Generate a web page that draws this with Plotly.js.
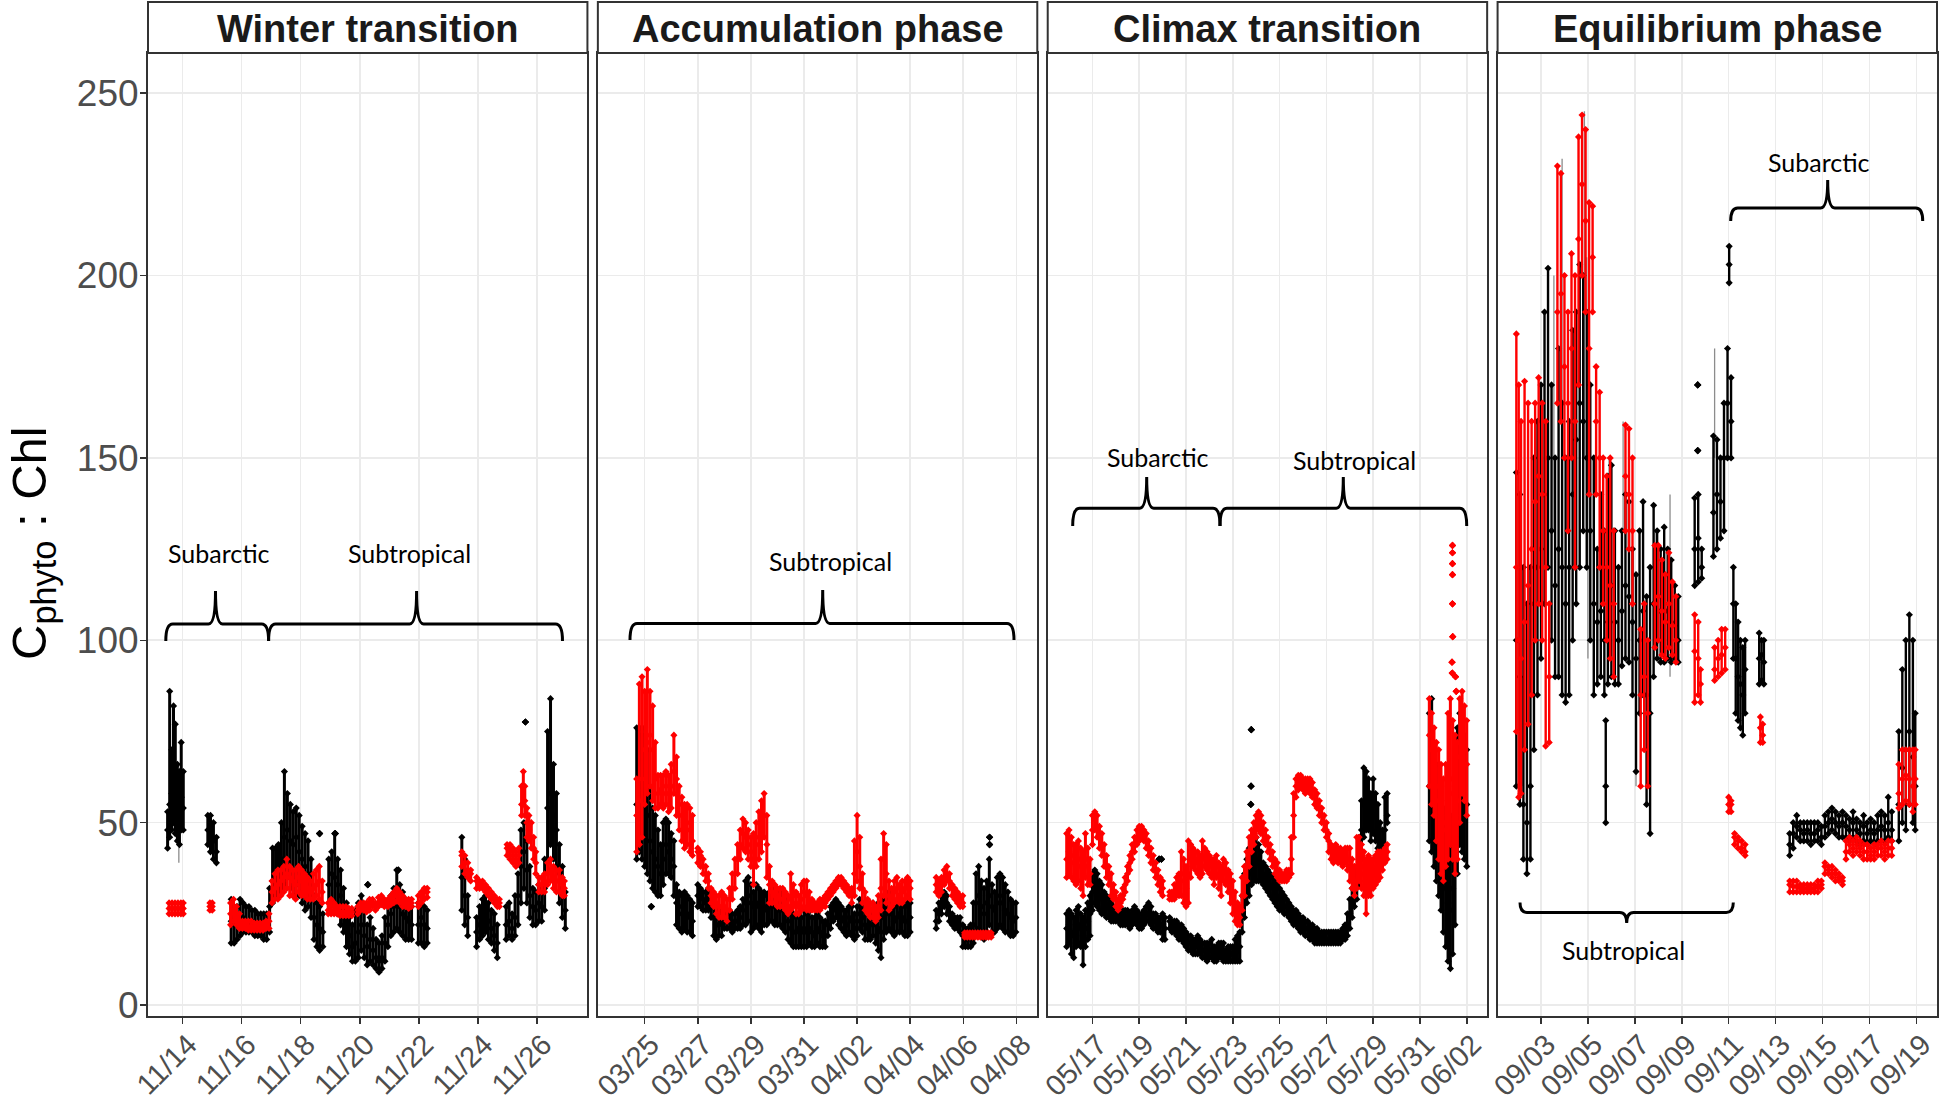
<!DOCTYPE html>
<html>
<head>
<meta charset="utf-8">
<script src="https://cdn.plot.ly/plotly-3.0.1.min.js"></script>
<style>html,body{margin:0;padding:0;background:#fff;}#chart{width:1950px;height:1111px;}</style>
</head>
<body>
<div id="chart"></div>
<script>
// ---- DATA: rows are [day-of-month (may exceed month length), value, low, high] ----
const panelTitles = ['Winter transition', 'Accumulation phase', 'Climax transition', 'Equilibrium phase'];
const yTickVals = [0, 50, 100, 150, 200, 250];

const winterBlack = [
[13.50,48,43,53],[13.57,55,46,86],[13.64,58,48,70],[13.70,60,50,82],[13.76,56,47,77],[13.83,54,45,66],[13.90,52,44,64],[13.96,57,48,72],[14.03,54,48,64],
[14.86,48,44,52],[14.95,46,42,52],[15.05,45,40,50],[15.15,42,39,46],
[15.65,23,17,29],[15.75,22,17,27],[15.85,23,18,27],[15.95,24,19,29],[16.05,24,20,28],[16.15,23,20,27],[16.25,23,20,27],[16.35,23,20,26],[16.45,22,19,26],[16.55,22,19,25],[16.65,22,19,25],[16.75,21,18,25],[16.85,22,18,25],[16.95,27,20,32],
[17.05,34,28,43],[17.15,36,30,43],[17.25,38,30,44],[17.35,40,32,50],[17.45,46,33,64],[17.55,48,35,58],[17.65,45,32,55],[17.75,44,30,53],[17.85,46,33,54],[17.95,42,30,52],[18.05,40,28,49],[18.15,38,26,47],[18.25,36,27,45],[18.35,30,24,40],
[18.45,24,18,30],[18.55,22,16,28],[18.64,21,15,27],[18.75,20,16,25],
[18.95,33,26,40],[19.05,36,28,42],[19.15,35,27,47],[19.25,33,25,40],[19.35,30,22,37],[19.45,26,20,32],
[19.55,22,16,28],[19.65,19,14,24],[19.75,16,12,22],[19.85,17,12,26],[19.95,20,13,28],
[20.05,22,15,30],[20.15,19,13,26],[20.25,16,11,22],[20.35,18,12,24],[20.45,15,11,21],[20.55,13,10,18],[20.65,12,9,17],[20.75,13,10,19],[20.85,17,12,24],
[20.95,22,16,28],[21.05,25,19,30],[21.15,27,20,32],[21.25,28,21,37],[21.35,27,20,33],[21.45,25,19,31],[21.55,24,18,29],[21.65,23,18,28],[21.75,22,18,27],
[21.98,22,17,28],[22.08,24,17,30],[22.18,22,16,27],[22.28,21,17,26],
[23.45,35,26,46],[23.55,30,22,40],[23.65,24,19,30],
[23.95,20,16,24],[24.05,22,18,27],[24.15,24,19,29],[24.25,27,20,30],[24.35,23,18,28],[24.45,21,17,26],[24.55,19,15,25],[24.65,17,13,22],
[24.95,22,18,27],[25.05,23,19,28],[25.15,21,18,25],[25.25,24,19,30],[25.35,30,22,36],[25.45,38,28,48],[25.55,42,32,50],[25.65,37,28,45],[25.75,30,24,38],[25.85,27,22,32],[25.95,26,22,31],[26.05,28,23,33],[26.15,27,23,32],[26.25,32,26,40],[26.35,54,40,75],[26.45,58,44,84],[26.55,52,40,66],[26.65,48,38,58],[26.75,36,28,44],[26.85,30,24,38],[26.95,26,21,31],
[18.64,47],[19.17,47],[20.27,33],[21.30,37],[25.60,77.6]
];
const winterRed = [
[13.55,26.5,25,28],[13.65,26.5,25,28],[13.75,26.5,25,28],[13.85,26.5,25,28],[13.95,26.5,25,28],[14.03,26.5,25,28],
[14.93,27,26,28],[15.01,27,26,28],
[15.63,25,22,28],[15.73,26,23,29],[15.83,24,22,27],[15.93,23,21,25],
[16.03,22,21,23],[16.13,22,21,23],[16.23,21.5,20.5,23],[16.33,21.5,20.5,23],[16.43,21.5,20.5,22.5],[16.53,21.5,20.5,22.5],[16.63,21.5,20.5,22.5],[16.73,21.5,20.5,22.5],[16.83,22,21,23],[16.93,23,21,25],
[17.03,31,28,34],[17.13,32,29,36],[17.23,33,29,37],[17.33,34,30,37],[17.43,35,31,38],[17.53,36,32,40],[17.63,35,30,38],[17.73,34,30,37],[17.83,33,29,37],[17.93,35,31,38],[18.03,34,30,37],[18.13,33,30,36],[18.23,32,29,35],[18.33,31,29,34],[18.43,32,29,36],[18.53,33,30,37],[18.63,34,29,38],[18.73,31,28,34],
[18.93,26,25,28],[19.03,27,25,29],[19.13,26,25,28],[19.23,26,25,27],[19.33,25.5,24.5,27],[19.43,25.5,24.5,27],[19.53,25.5,24.5,27],[19.63,25.5,24.5,26.5],[19.73,25.5,24.5,26.5],
[19.93,26,25,27],[20.03,27,26,28],[20.13,27,26,28],[20.23,26.5,25.5,28],[20.33,27.5,26,29],[20.43,28,27,29],[20.53,27,26,28],[20.63,28,27,29.5],[20.73,29,27.5,30],[20.83,28,27,29],
[20.95,28,27,29],[21.05,29,27.5,30],[21.15,30,28,31],[21.25,30,28.5,32],[21.35,29,28,31],[21.45,28.5,27,30],[21.55,28,27,29],[21.65,27.5,26.5,29],[21.75,28,27,29],
[21.98,28,27,30],[22.08,30,28,31],[22.18,31,29,32],[22.28,31,29.5,32],
[23.45,41,38,42],[23.55,39,36,41],[23.65,37,35,39],[23.75,36,34,37],
[23.95,34,32,35],[24.05,33,32,34],[24.15,33,32,34],[24.25,32,31,33],[24.35,31,30,32],[24.45,30,29,31],[24.55,29,28,30],[24.65,28,27,29],[24.72,28,27,29],
[24.98,43,41,44],[25.08,42,40,44],[25.18,41,39,43],[25.28,40,38,42],[25.38,41,39,43],
[25.47,55,52,60],[25.53,60,55,64],[25.58,56,52,60],[25.65,50,46,54],[25.72,48,45,52],[25.80,46,43,50],[25.88,43,40,46],[25.95,39,36,42],
[26.05,33,31,35],[26.15,33,31,35],[26.25,34,31,36],[26.35,36,33,39],[26.45,37,34,40],[26.55,35,32,38],[26.65,34,31,37],[26.75,34,31,37],[26.85,33,30,35],[26.92,32,30,34]
];
const winterGrey = [[13.88,39,62],[26.45,58,84]];

const accumBlack = [
[24.70,55,40,76],[24.80,60,42,76],[24.90,58,40,74],[25.00,55,38,76],[25.10,52,36,70],[25.20,45,34,60],[25.30,42,32,54],[25.40,40,31,52],[25.50,38,30,48],[25.60,36,30,44],[25.70,40,33,50],[25.80,44,36,51],[25.90,42,36,50],[26.00,40,35,47],[26.10,38,30,45],
[26.20,28,22,33],[26.30,27,21,31],[26.40,25,20,30],[26.50,26,21,31],[26.60,25,20,30],[26.70,24,20,29],[26.80,23,19,28],
[27.00,30,27,33],[27.10,30,27,32],[27.20,29,26,31],[27.30,28,26,31],[27.40,29,26,32],[27.50,27,24,30],[27.60,24,19,27],[27.70,22,18,26],[27.80,22,19,26],[27.90,23,19,26],
[28.00,23,21,25],[28.10,23,21,25],[28.20,23,21,26],[28.30,22,20,25],[28.40,23,21,25],[28.50,23,21,26],[28.60,24,21,27],[28.70,26,22,29],[28.80,28,22,34],[28.90,30,23,35],
[29.00,28,20,33],[29.10,27,21,31],[29.20,28,22,33],[29.30,27,21,32],[29.40,26,20,31],[29.50,27,22,31],[29.60,26,22,30],[29.70,27,23,31],[29.80,28,23,32],[29.90,27,22,31],
[30.00,26,22,30],[30.10,27,22,31],[30.20,26,21,30],[30.30,25,20,29],[30.40,23,18,27],[30.50,21,17,26],[30.60,20,16,25],[30.70,20,16,24],[30.80,21,16,25],[30.90,20,16,24],
[31.00,21,16,26],[31.10,20,16,25],[31.20,21,17,26],[31.30,20,16,24],[31.40,19,16,24],[31.50,21,17,25],[31.60,20,16,24],[31.70,19,16,23],[31.80,19,16,23],[31.90,22,19,25],
[32.00,24,21,27],[32.10,26,23,28],[32.20,27,24,29],[32.30,25,22,28],[32.40,24,21,27],[32.50,23,20,26],[32.60,22,19,26],[32.70,24,20,27],[32.80,23,19,27],[32.90,21,18,25],
[33.00,23,19,27],[33.10,25,21,29],[33.20,24,20,28],[33.30,22,18,26],[33.40,21,18,25],[33.50,22,18,26],[33.60,24,19,28],[33.70,22,17,27],[33.80,21,15,28],[33.90,20,13,27],
[34.00,24,18,29],[34.10,25,20,30],[34.20,26,21,31],[34.30,25,20,30],[34.40,23,19,27],[34.50,24,20,28],[34.60,25,20,30],[34.70,24,20,28],[34.80,23,19,27],[34.90,23,19,28],[35.00,24,20,28],
[35.98,23,21,26],[36.08,25,23,28],[36.18,27,25,30],[36.28,29,27,31],[36.38,28,25,30],[36.48,25,23,27],[36.58,23,22,25],[36.68,22,21,24],[36.78,23,21,24],[36.88,22,20,24],
[36.98,19,16,22],[37.08,18,16,21],[37.18,18,16,21],[37.28,19,16,22],[37.38,22,17,28],[37.48,28,20,36],[37.58,30,21,38],[37.68,27,20,34],[37.78,25,18,32],[37.88,28,20,34],
[37.98,30,22,40],[38.08,27,20,33],[38.18,26,20,31],[38.28,28,21,35],[38.38,30,22,36],[38.48,28,21,35],[38.58,26,20,33],[38.68,25,20,31],[38.78,24,19,29],[38.88,23,19,28],[38.98,24,20,28],
[25.25,27],[37.99,46],[37.99,44]
];
const accumRed = [
[24.70,52,42,62],[24.80,56,44,88],[24.90,62,46,90],[25.00,70,55,86],[25.10,72,58,92],[25.20,74,60,86],[25.30,70,56,82],[25.40,62,54,72],[25.50,58,54,63],[25.60,59,55,63],
[25.70,58,54,63],[25.80,60,55,64],[25.90,58,53,63],[26.00,60,54,66],[26.10,64,58,74],[26.20,62,52,68],[26.30,55,48,60],[26.40,52,45,57],[26.50,49,43,55],[26.60,50,44,55],[26.70,48,42,54],[26.80,45,41,52],
[27.00,42,39,43],[27.10,41,38,42],[27.20,38,36,40],[27.30,36,34,38],[27.40,34,32,36],[27.50,30,28,32],[27.60,29,27,31],[27.70,28,25,30],[27.80,27,24,30],[27.90,27,24,31],
[28.00,27,24,30],[28.10,26,23,29],[28.20,29,26,32],[28.30,32,29,36],[28.40,36,32,40],[28.50,40,36,44],[28.60,44,40,48],[28.70,47,43,51],[28.80,46,42,50],[28.90,44,40,48],
[29.00,42,38,46],[29.10,40,33,47],[29.20,44,38,50],[29.30,46,40,53],[29.40,48,42,56],[29.50,52,46,58],[29.60,44,35,52],[29.70,33,28,38],[29.80,31,28,34],[29.90,30,28,33],
[30.00,30,27,32],[30.10,29,27,32],[30.20,29,27,32],[30.30,28,26,31],[30.40,27,25,30],[30.50,29,26,36],[30.60,30,27,33],[30.70,28,25,31],[30.80,27,25,30],[30.90,29,26,33],
[31.00,31,27,34],[31.10,30,26,34],[31.20,28,26,31],[31.30,27,26,29],[31.40,27,26,28],[31.50,27,26,28],[31.60,27,26,29],[31.70,28,27,29],[31.80,28,27,30],[31.90,30,29,31],
[32.00,31,30,32],[32.10,32,31,33],[32.20,33,32,34],[32.30,34,33,35],[32.40,34,33,35],[32.50,33,32,34],[32.60,32,31,33],[32.70,31,30,32],[32.80,30,28,32],[32.90,36,30,45],
[33.00,42,34,52],[33.10,38,32,46],[33.20,32,28,36],[33.30,28,26,31],[33.40,27,25,29],[33.50,26,24,28],[33.60,26,24,28],[33.70,25,23,27],[33.80,27,24,30],[33.90,32,26,40],
[34.00,40,30,47],[34.10,36,28,44],[34.20,30,26,34],[34.30,29,27,32],[34.40,31,28,34],[34.50,32,29,35],[34.60,30,28,33],[34.70,31,28,34],[34.80,32,29,34],[34.90,33,30,35],[35.00,32,29,34],
[35.98,33,31,35],[36.08,32,30,34],[36.18,33,31,35],[36.28,35,33,37],[36.38,36,34,38],[36.48,34,32,36],[36.58,32,30,33],[36.68,31,29,32],[36.78,30,28,31],[36.88,29,27,30],[36.98,28,27,30],
[37.05,19.2,18.6,19.8],[37.15,19.2,18.6,19.8],[37.25,19.2,18.6,19.8],[37.35,19.2,18.6,19.8],[37.45,19.2,18.6,19.8],[37.55,19.2,18.6,19.8],[37.65,19.2,18.6,19.8],[37.75,19.2,18.6,19.8],[37.85,19.2,18.6,19.8],[37.95,19.2,18.6,19.8],[38.05,19.2,18.6,19.8]
];

const climaxBlack = [
[15.90,21,16,25],[16.00,22,17,26],[16.10,20,14,25],[16.20,19,13,24],[16.30,21,16,26],[16.40,22,17,27],[16.50,21,16,25],[16.60,19,11,24],[16.70,21,16,26],[16.80,23,18,28],[16.90,25,19,30],
[17.00,31,26,36],[17.10,33,28,37],[17.20,32,27,36],[17.30,30,26,34],[17.40,29,25,33],[17.50,28,25,31],[17.60,27,24,30],[17.70,27,24,29],[17.80,26,23,28],[17.90,25,23,27],
[18.00,25,23,27],[18.10,25,23,27],[18.20,24,22,26],[18.30,24,22,26],[18.40,24,22,26],[18.50,24,22,26],[18.60,23,21,25],[18.70,24,22,26],[18.80,25,23,27],[18.90,24,22,26],
[19.00,23,21,25],[19.10,23,21,25],[19.20,24,22,26],[19.30,25,23,27],[19.40,25,23,28],[19.50,24,22,27],[19.60,23,21,25],[19.70,23,21,25],[19.80,22,20,24],[19.90,22,20,24],
[20.00,22,18,25],[20.10,21,18,24],[20.30,23,21,24],[20.40,22,20,23],[20.50,22,20,23],[20.60,21,19,23],[20.70,20,18,22],[20.80,20,18,22],[20.90,19,17,21],
[21.00,18,16,20],[21.10,17,15,19],[21.20,17,15,19],[21.30,16,14,18],[21.40,16,14,18],[21.50,17,14,19],[21.60,16,14,18],[21.70,15,13,17],[21.80,15,13,17],[21.90,14,12,17],
[22.00,15,13,17],[22.10,15,13,18],[22.20,14,12,16],[22.30,14,12,16],[22.40,15,13,17],[22.50,15,13,17],[22.60,14,12,17],[22.70,13,12,15],[22.80,14,12,16],[22.90,14,12,16],
[23.00,14,12,16],[23.10,15,12,18],[23.20,15,12,19],[23.30,16,12,20],
[23.40,24,20,30],[23.50,30,24,36],[23.60,34,28,40],[23.70,36,30,43],[23.80,38,33,45],[23.90,40,34,47],[24.00,40,34,46],[24.10,39,34,44],[24.20,38,34,42],[24.30,36,33,39],
[24.40,35,32,38],[24.50,34,31,37],[24.60,33,30,36],[24.70,32,29,35],[24.80,31,28,34],[24.90,30,27,33],[25.00,29,26,32],[25.10,28,26,31],[25.20,27,25,30],[25.30,27,25,29],
[25.40,26,24,28],[25.50,25,23,27],[25.60,24,22,26],[25.70,24,22,26],[25.80,23,21,25],[25.90,22,20,24],[26.00,22,20,24],[26.10,21,19,23],[26.20,21,19,23],[26.30,20,18,22],
[26.40,20,18,22],[26.50,19,17,21],[26.60,19,17,21],[26.70,19,17,20],[26.80,18,17,20],[26.90,18,17,20],[27.00,18,17,20],[27.10,18,17,20],[27.20,19,17,20],[27.30,19,17,20],
[27.40,18,17,20],[27.50,19,17,20],[27.60,19,17,20],[27.70,19,18,21],[27.80,20,18,22],[27.90,22,19,25],[28.00,25,21,29],[28.10,28,24,32],[28.20,32,27,36],[28.30,34,29,38],
[28.40,40,33,46],[28.50,48,40,56],[28.60,55,46,65],[28.70,56,48,64],[28.80,55,48,62],[28.90,52,45,58],[29.00,55,47,62],[29.10,52,45,58],[29.20,48,43,55],[29.30,45,42,50],
[29.40,44,42,48],[29.50,48,44,57],[29.60,52,50,58],
[31.40,60,45,80],[31.50,58,42,84],[31.60,52,38,72],[31.70,48,34,66],[31.80,42,30,60],[31.90,40,26,56],[32.00,36,20,54],[32.10,32,16,50],[32.20,28,12,46],[32.30,26,10,44],
[32.40,32,14,52],[32.50,42,22,62],[32.60,55,36,76],[32.70,62,44,80],[32.80,60,42,78],[32.90,58,40,74],[33.00,55,38,70],
[23.79,75.5],[23.78,60],[23.77,55],[19.85,40],[19.95,40]
];
const climaxRed = [
[15.90,40,35,47],[16.00,42,36,48],[16.10,41,35,46],[16.20,39,34,44],[16.30,38,33,44],[16.40,40,34,45],[16.50,38,32,43],[16.60,37,30,42],[16.70,40,35,47],[16.80,38,33,43],[16.90,36,33,40],
[17.00,48,44,52],[17.10,51,48,53],[17.20,49,46,52],[17.30,46,43,49],[17.40,44,41,47],[17.50,41,38,44],[17.60,38,35,41],[17.70,36,33,38],[17.80,33,30,36],[17.90,31,29,33],
[18.00,29,27,31],[18.10,27,26,29],[18.20,28,27,30],[18.30,30,29,32],[18.40,33,31,35],[18.50,36,34,38],[18.60,39,37,41],[18.70,42,40,44],[18.80,44,42,46],[18.90,46,44,48],
[19.00,47,45,49],[19.10,48,46,49],[19.20,47,45,48],[19.30,45,43,47],[19.40,43,41,45],[19.50,41,39,43],[19.60,39,37,41],[19.70,37,35,39],[19.80,35,33,37],[19.90,33,31,35],
[20.00,32,30,34],[20.30,30,29,31],[20.40,30,29,31],[20.50,31,29,33],[20.60,32,30,35],[20.70,33,30,36],[20.80,36,30,42],[20.90,34,28,40],
[21.00,32,27,38],[21.10,36,28,45],[21.20,40,35,44],[21.30,41,38,43],[21.40,40,37,42],[21.50,39,36,42],[21.60,38,35,41],[21.70,40,36,45],[21.80,41,38,43],[21.90,40,37,42],
[22.00,39,36,41],[22.10,38,35,40],[22.20,37,33,40],[22.30,38,35,41],[22.40,36,32,39],[22.50,35,30,38],[22.60,37,34,40],[22.70,36,33,39],[22.80,34,31,37],[22.90,33,28,36],
[23.00,30,25,34],[23.10,27,23,31],[23.20,25,22,28],[23.30,24,22,27],[23.40,30,26,35],[23.50,34,30,38],[23.60,38,34,42],[23.70,42,38,46],[23.80,45,42,48],[23.90,47,44,50],
[24.00,49,46,52],[24.10,50,48,53],[24.20,49,47,52],[24.30,48,45,50],[24.40,46,44,48],[24.50,44,42,46],[24.60,42,40,44],[24.70,40,38,42],[24.80,38,36,40],[24.90,37,35,39],
[25.00,36,34,37],[25.10,35,34,36],[25.20,35,34,36],[25.30,35,34,37],[25.40,36,35,37],[25.50,40,36,46],[25.60,52,46,58],[25.70,60,57,62],[25.80,61,59,63],[25.90,62,60,63],
[26.00,61,59,62],[26.10,60,58,62],[26.20,61,59,62],[26.30,60,58,62],[26.40,59,57,61],[26.50,57,55,59],[26.60,56,54,58],[26.70,54,52,56],[26.80,52,50,54],[26.90,50,48,52],
[27.00,48,46,50],[27.10,45,42,47],[27.20,42,40,44],[27.30,41,39,43],[27.40,42,40,44],[27.50,41,39,43],[27.60,41,39,43],[27.70,40,38,42],[27.80,41,39,43],[27.90,40,37,43],
[28.00,38,34,43],[28.10,36,32,40],[28.20,34,30,38],[28.30,38,32,46],[28.40,40,34,46],[28.50,38,32,44],[28.60,36,30,42],[28.70,34,25,40],[28.80,36,30,41],[28.90,35,30,40],
[29.00,36,32,40],[29.10,37,33,41],[29.20,38,34,42],[29.30,39,35,42],[29.40,40,37,42],[29.50,41,39,43],[29.60,42,40,44],
[31.40,74,60,84],[31.50,70,55,80],[31.60,66,52,76],[31.70,60,45,72],[31.80,56,40,70],[31.90,52,36,66],[32.00,48,34,62],[32.10,50,38,66],[32.20,60,40,80],[32.30,62,44,84],
[32.40,58,40,78],[32.50,52,36,74],[32.60,56,40,72],[32.70,68,50,84],[32.80,72,58,86],[32.90,70,56,82],[33.00,66,52,78],
[32.39,126],[32.39,124],[32.39,121],[32.39,118],[32.39,110],[32.40,101],[32.37,94],[32.38,91],[32.52,90],[32.55,86]
];

const equilBlack = [
[1.95,100,60,146],[2.10,90,55,140],[2.25,55,40,120],[2.40,50,36,110],[2.55,60,40,120],[2.70,110,70,150],[2.85,120,85,160],[3.00,125,95,170],[3.15,140,110,190],[3.30,150,120,202],
[3.45,130,100,170],[3.60,115,90,150],[3.75,125,90,180],[3.90,120,85,165],[4.05,110,83,150],[4.20,120,85,160],[4.35,140,100,185],[4.50,155,110,190],[4.65,165,120,203],[4.80,160,130,200],
[4.95,150,120,190],[5.10,130,100,170],[5.25,110,85,150],[5.40,105,88,125],[5.55,108,90,140],[5.70,100,85,130],[5.76,60,50,78],[5.85,105,88,145],[6.00,115,90,148],[6.15,105,88,130],
[6.30,100,88,120],[6.45,108,93,130],[6.60,115,95,140],[6.75,112,94,138],[6.90,105,85,125],[7.05,95,64,118],[7.20,100,80,130],[7.35,108,85,138],[7.50,85,55,112],[7.65,80,47,120],
[7.80,110,90,137],[7.95,112,95,130],[8.10,108,94,125],[8.25,110,94,131],[8.40,108,95,125],[8.55,105,94,122],[8.70,104,95,115],[8.85,100,94,112],
[9.55,125,115,139],[9.70,128,116,140],[9.85,120,117,125],[9.68,170],[9.68,152],
[10.35,135,123,156],[10.50,140,125,155],[10.65,138,128,150],[10.80,150,130,165],[10.95,165,150,180],[11.02,203,198,208],[11.10,160,150,172],
[11.20,110,95,120],[11.30,95,80,110],[11.40,90,78,105],[11.50,88,76,100],[11.60,85,74,98],[11.70,92,80,100],
[12.30,95,88,102],[12.40,96,89,100],[12.50,94,88,100],
[13.60,44,41,47],[13.75,47,43,50],[13.90,49,46,52],[14.05,48,45,50],[14.20,47,45,50],[14.35,48,45,50],[14.50,47,44,50],[14.65,47,45,50],[14.80,48,45,50],[14.95,46,44,49],
[15.10,49,46,52],[15.25,50,47,53],[15.40,51,48,54],[15.55,50,47,53],[15.70,49,46,52],[15.85,50,46,53],[16.00,49,46,52],[16.15,48,45,51],[16.30,50,46,53],[16.45,48,45,51],
[16.60,47,44,50],[16.75,49,45,52],[16.90,47,44,50],[17.05,48,45,51],[17.20,47,44,50],[17.35,48,45,52],[17.50,49,45,53],[17.65,48,45,52],[17.80,50,46,57],[17.95,48,45,53],
[18.25,55,45,75],[18.40,65,50,92],[18.55,70,48,100],[18.70,75,55,107],[18.85,68,50,100],[18.95,60,48,80]
];
const equilRed = [
[1.95,120,75,184],[2.05,100,57,170],[2.15,95,58,160],[2.30,105,70,171],[2.45,115,77,165],[2.60,125,85,160],[2.75,138,100,165],[2.90,145,110,172],[3.05,140,100,165],[3.20,120,71,160],
[3.35,90,72,110],[3.70,190,165,230],[3.85,195,160,228],[4.00,175,150,200],[4.15,165,130,190],[4.30,180,150,206],[4.45,160,120,200],[4.60,210,170,238],[4.75,225,200,244],[4.90,215,190,240],
[5.05,180,140,220],[5.20,205,190,219],[5.35,160,140,175],[5.50,150,120,168],[5.65,130,110,150],[5.80,120,100,145],[5.95,115,95,150],[6.10,110,90,130],
[6.60,145,130,159],[6.75,140,125,158],[6.90,130,110,150],[7.25,85,60,103],[7.40,90,70,110],[7.55,80,60,100],
[7.85,110,98,126],[8.00,112,100,126],[8.15,108,96,122],[8.30,105,95,118],[8.45,110,98,124],[8.60,104,96,116],[8.75,100,94,112],
[9.55,97,83,107],[9.70,95,85,105],[9.80,88,83,92],[10.40,92,89,98],[10.55,95,90,100],[10.70,96,91,103],[10.85,98,92,103],
[11.00,55,53,57],[11.10,55,53,56],[11.25,46,44,47],[11.40,45,43,46],[11.55,43,42,45],[11.70,42,41,44],[12.35,76,72,79],[12.45,74,72,77],
[13.60,33,31,34],[13.75,32.5,31,34],[13.90,32.5,31,34],[14.05,32,31,33],[14.20,32,31,33],[14.35,32,31,33],[14.50,32,31,33],[14.65,32,31,33],[14.80,32.5,31,34],[14.95,33,32,34],
[15.10,38,36,39],[15.25,37,36,38],[15.40,36,35,38],[15.55,36,34,37],[15.70,35,34,36],[15.85,34,33,35],
[16.00,42,40,45],[16.15,44,42,46],[16.30,43,41,45],[16.45,44,42,46],[16.60,43,41,45],[16.75,42,40,44],[16.90,42,40,44],[17.05,41,40,43],[17.20,42,40,44],[17.35,43,41,44],
[17.50,43,41,45],[17.65,42,40,44],[17.80,43,41,45],[17.95,43,41,45],
[18.25,58,54,66],[18.40,62,55,70],[18.55,63,56,70],[18.70,62,55,70],[18.85,60,53,70],[18.95,62,55,70]
];
const equilGrey = [[2.95,120,170],[3.90,165,232],[4.85,150,245],[4.95,145,205],[3.55,130,200],[5.00,95,140],[6.50,130,160],[7.05,60,100],[8.50,90,140],[2.20,60,90],[10.40,150,180],[5.90,110,150],[7.90,100,130]];

// ---- panel configuration (dates: year, month index, axis range in days, first tick day) ----
const panels = [
  {title: panelTitles[0], year: 2015, month: 10, range: [12.837, 27.698], tick0: 14, black: winterBlack, red: winterRed, grey: winterGrey, domain: [0, 0.24563]},
  {title: panelTitles[1], year: 2018, month: 2, range: [23.237, 39.787], tick0: 25, black: accumBlack, red: accumRed, grey: [], domain: [0.25146, 0.49709]},
  {title: panelTitles[2], year: 2016, month: 4, range: [15.089, 33.872], tick0: 17, black: climaxBlack, red: climaxRed, grey: [], domain: [0.50292, 0.74855]},
  {title: panelTitles[3], year: 2017, month: 8, range: [1.150, 19.878], tick0: 3, black: equilBlack, red: equilRed, grey: equilGrey, domain: [0.75438, 1]}
];

function toDate(year, month0, d) {
  const ms = Date.UTC(year, month0, 1) + (d - 1) * 86400000;
  return new Date(ms).toISOString().slice(0, 19).replace('T', ' ');
}

function seriesTraces(rows, p, color, thick, xa, ya) {
  const x = rows.map(r => toDate(p.year, p.month, r[0]));
  const y = rows.map(r => r[1]);
  const lo = rows.map(r => r.length > 2 ? r[2] : r[1]);
  const hi = rows.map(r => r.length > 3 ? r[3] : r[1]);
  const mk = {symbol: 'diamond', size: 5.5, color: color};
  return [{
    type: 'scatter', mode: 'markers', x: x, y: y, xaxis: xa, yaxis: ya,
    marker: mk,
    error_y: {type: 'data', symmetric: false, array: hi.map((h, k) => h - y[k]), arrayminus: lo.map((l, k) => y[k] - l), color: color, thickness: thick, width: 0},
    showlegend: false, hoverinfo: 'skip'
  }, {
    type: 'scatter', mode: 'markers', x: x.concat(x), y: lo.concat(hi), xaxis: xa, yaxis: ya,
    marker: mk, showlegend: false, hoverinfo: 'skip'
  }];
}

function greyTrace(rows, p, xa, ya) {
  return {
    type: 'scatter', mode: 'markers', xaxis: xa, yaxis: ya,
    x: rows.map(r => toDate(p.year, p.month, r[0])),
    y: rows.map(r => r[1]),
    marker: {size: 1, color: 'rgba(0,0,0,0)'},
    error_y: {type: 'data', symmetric: false, array: rows.map(r => r[2] - r[1]), arrayminus: rows.map(() => 0), color: '#8c8c8c', thickness: 1.3, width: 0},
    showlegend: false, hoverinfo: 'skip'
  };
}

const traces = [];
const layout = {
  width: 1950, height: 1111,
  margin: {l: 148, r: 13, t: 53, b: 95, pad: 0},
  paper_bgcolor: '#ffffff', plot_bgcolor: '#ffffff',
  showlegend: false,
  font: {family: 'Liberation Sans, Arial, sans-serif', color: '#000'},
  shapes: [], annotations: []
};

const L = 148, T = 53, PW = 1789, PH = 963;
const px2x = px => (px - L) / PW;
const py2y = py => (T + PH - py) / PH;

panels.forEach((p, i) => {
  const n = i + 1;
  const xa = n === 1 ? 'x' : 'x' + n;
  const ya = n === 1 ? 'y' : 'y' + n;
  if (p.grey.length) traces.push(greyTrace(p.grey, p, xa, ya));
  seriesTraces(p.black, p, '#000000', n === 4 ? 2.4 : 3, xa, ya).forEach(t => traces.push(t));
  seriesTraces(p.red, p, '#ff0000', n === 4 ? 2.4 : 3, xa, ya).forEach(t => traces.push(t));

  layout[n === 1 ? 'xaxis' : 'xaxis' + n] = {
    domain: p.domain, anchor: ya, type: 'date',
    range: [toDate(p.year, p.month, p.range[0]), toDate(p.year, p.month, p.range[1])],
    tick0: toDate(p.year, p.month, p.tick0), dtick: 172800000, tickformat: '%m/%d',
    tickangle: -45, tickfont: {size: 29, color: '#4D4D4D', family: 'Liberation Sans, Arial, sans-serif'},
    ticklabelshift: 6, ticklabelstandoff: -8,
    ticks: 'outside', ticklen: 6, tickwidth: 1.5, tickcolor: '#333333',
    showgrid: true, gridcolor: '#EBEBEB', gridwidth: 1.6, zeroline: false,
    showline: true, linecolor: '#333333', linewidth: 2, mirror: true, fixedrange: true
  };
  layout[n === 1 ? 'yaxis' : 'yaxis' + n] = {
    domain: [0, 1], anchor: xa, range: [-3, 261], tickvals: yTickVals,
    showticklabels: n === 1, ticks: n === 1 ? 'outside' : '', ticklen: 6, tickwidth: 1.5, tickcolor: '#333333',
    ticklabelstandoff: -6,
    tickfont: {size: 37, color: '#4D4D4D', family: 'Liberation Sans, Arial, sans-serif'},
    showgrid: true, gridcolor: '#EBEBEB', gridwidth: 1.6, zeroline: false,
    showline: true, linecolor: '#333333', linewidth: 2, mirror: true, fixedrange: true
  };

  // strip
  layout.shapes.push({type: 'rect', xref: 'paper', yref: 'paper', x0: p.domain[0], x1: p.domain[1], y0: 1, y1: py2y(2), line: {color: '#333333', width: 2}, fillcolor: '#ffffff', layer: 'above'});
  layout.annotations.push({xref: 'paper', yref: 'paper', x: (p.domain[0] + p.domain[1]) / 2, y: py2y(29), xanchor: 'center', yanchor: 'middle', showarrow: false, text: '<b>' + p.title + '</b>', font: {size: 38, color: '#1A1A1A', family: 'Liberation Sans, Arial, sans-serif'}});
});

// curly braces (pixel geometry -> paper coordinates)
function bracePath(x0, x1, xm, yEnd, yBar, yTip) {
  const r = 7;
  const P = (x, y) => px2x(x).toFixed(5) + ',' + py2y(y).toFixed(5);
  return 'M' + P(x0, yEnd) + ' Q' + P(x0, yBar) + ' ' + P(x0 + r, yBar) +
         ' L' + P(xm - r, yBar) + ' Q' + P(xm, yBar) + ' ' + P(xm, yTip) +
         ' Q' + P(xm, yBar) + ' ' + P(xm + r, yBar) +
         ' L' + P(x1 - r, yBar) + ' Q' + P(x1, yBar) + ' ' + P(x1, yEnd);
}
const braces = [
  [165.8, 268.6, 215.5, 641, 624, 591],
  [268.6, 562.5, 416.6, 641, 624, 591],
  [630, 1014, 822.7, 640, 623.4, 590],
  [1072.7, 1220, 1146.7, 526, 508.2, 477],
  [1220, 1466.7, 1343.3, 526, 508.2, 477],
  [1730.7, 1922.7, 1827.7, 221, 208, 180],
  [1520, 1733.3, 1626.7, 902.6, 912.5, 923]
];
braces.forEach(b => layout.shapes.push({type: 'path', xref: 'paper', yref: 'paper', path: bracePath.apply(null, b), line: {color: '#000000', width: 3}}));

const regionLabels = [
  ['Subarctic', 218.8, 553], ['Subtropical', 409, 553],
  ['Subtropical', 830.5, 560.7],
  ['Subarctic', 1158.3, 457], ['Subtropical', 1354.5, 459.5],
  ['Subarctic', 1819, 162], ['Subtropical', 1623.8, 950]
];
regionLabels.forEach(l => layout.annotations.push({xref: 'paper', yref: 'paper', x: px2x(l[1]), y: py2y(l[2]), xanchor: 'center', yanchor: 'middle', showarrow: false, text: l[0], font: {family: 'Lato, Carlito, sans-serif', size: 25, color: '#000000'}}));

// y-axis title
layout.annotations.push({xref: 'paper', yref: 'paper', x: px2x(32), y: py2y(543), xanchor: 'center', yanchor: 'middle', showarrow: false, textangle: -90, text: 'C<sub>phyto</sub> : Chl', font: {family: 'Liberation Sans, Arial, sans-serif', size: 49, color: '#000000'}});

Plotly.newPlot('chart', traces, layout, {displayModeBar: false, staticPlot: true});
</script>
</body>
</html>
